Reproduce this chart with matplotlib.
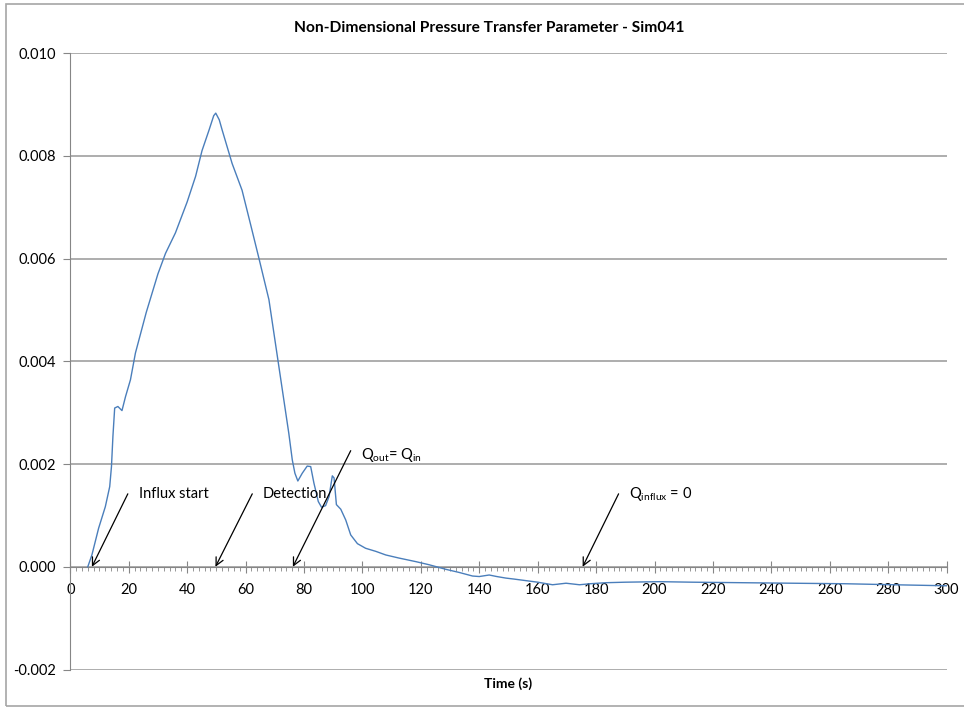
import matplotlib
matplotlib.use("Agg")
import matplotlib.pyplot as plt
from matplotlib.patches import Rectangle
from matplotlib.ticker import MultipleLocator, FormatStrFormatter

plt.rcParams['font.family'] = ['Lato', 'DejaVu Sans']
plt.rcParams['mathtext.default'] = 'regular'

# --- datos ---
time_s = [6.0, 7.4, 9.7, 12.0, 13.5, 14.1, 14.6, 15.2, 16.3, 17.7,
          18.9, 20.6, 22.3, 26, 30, 32.6, 36, 40, 42.9, 45.1,
          47.5, 49.1, 49.8, 51, 52, 55.4, 58.8, 62, 64.6, 68,
          71.4, 74.8, 76, 76.9, 77.9, 79.4, 81.1, 82.3, 83.4, 84.9,
          86.0, 87.4, 88.6, 89.7, 90.3, 91.1, 92.6, 94.3, 96.0, 98.3,
          101.1, 104.6, 108, 112.5, 118.3, 122.8, 128.6, 133.1, 137.7, 140,
          143.4, 146, 149.1, 152, 156, 160, 165.1, 169.7, 174.3, 178,
          183.4, 190, 201.7, 213, 230, 247, 265, 282, 300]
ptp = [0.0, 0.00023, 0.00075, 0.00117, 0.00156, 0.00195, 0.00254, 0.00309, 0.00312, 0.00304,
       0.00331, 0.00364, 0.00416, 0.00495, 0.0057, 0.0061, 0.0065, 0.0071, 0.0076, 0.0081,
       0.0085, 0.00878, 0.00883, 0.0087, 0.0085, 0.00785, 0.00733, 0.0066, 0.0060, 0.0052,
       0.0039, 0.0026, 0.00208, 0.00182, 0.00167, 0.00182, 0.00196, 0.00195, 0.00163, 0.00127,
       0.00116, 0.00119, 0.00137, 0.00177, 0.00173, 0.00121, 0.00112, 0.00091, 0.00062, 0.00045,
       0.00036, 0.0003, 0.00023, 0.00017, 0.0001, 0.00004, -0.00005, -0.00011, -0.00018, -0.00019,
       -0.00016, -0.00019, -0.00022, -0.00024, -0.00027, -0.0003, -0.00035, -0.00032, -0.00035, -0.00033,
       -0.00031, -0.0003, -0.00029, -0.0003, -0.00031, -0.00032, -0.00033, -0.00035, -0.00037]

# anotaciones (eventos)
ann_labels = ['Influx start', 'Detection', r'Q$_{out}$= Q$_{in}$', r'Q$_{influx}$ = 0']
ann_head_x = [7.4, 49.7, 76.2, 175.4]
ann_tail_x = [19.7, 62.3, 96.0, 187.7]
ann_tail_y = [0.00142, 0.00142, 0.00226, 0.00142]
ann_text_x = [23.4, 65.7, 99.4, 191.4]
ann_text_y = [0.00142, 0.00142, 0.00218, 0.00142]

fig = plt.figure(figsize=(9.64, 7.07), dpi=100)
ax = fig.add_axes([0.0729, 0.0530, 0.9091, 0.8720])

# borde exterior estilo Excel
fig.patches.append(Rectangle((0.0062, 0.0014), 1.0, 0.9929, transform=fig.transFigure,
                             fill=False, edgecolor='#a6a6a6', linewidth=1.2))

ax.plot(time_s, ptp, color='#4a7ebb', linewidth=1.0, zorder=3)

for lab, hx, tx, ty, lx, ly in zip(ann_labels, ann_head_x, ann_tail_x, ann_tail_y,
                                    ann_text_x, ann_text_y):
    ax.annotate('', xy=(hx, 0), xytext=(tx, ty),
                arrowprops=dict(arrowstyle='->', color='black', lw=0.9,
                                shrinkA=0, shrinkB=0, mutation_scale=14), zorder=4)
    ax.text(lx, ly, lab, fontsize=10.5, ha='left', va='center', color='black')

ax.set_xlim(0, 300)
ax.set_ylim(-0.002, 0.010)
ax.xaxis.set_major_locator(MultipleLocator(20))
ax.xaxis.set_minor_locator(MultipleLocator(2))
ax.yaxis.set_major_locator(MultipleLocator(0.002))
ax.yaxis.set_major_formatter(FormatStrFormatter('%.3f'))

ax.grid(True, axis='y', color='#a0a0a0', linewidth=1.2)
ax.set_axisbelow(True)

for s in ['top', 'right']:
    ax.spines[s].set_visible(False)
ax.spines['bottom'].set_position(('data', 0))
ax.spines['bottom'].set_color('#868686')
ax.spines['left'].set_color('#868686')

ax.tick_params(axis='x', which='major', direction='inout', length=8, color='#868686',
               labelsize=10.5, pad=8)
ax.tick_params(axis='x', which='minor', direction='out', length=3, color='#868686')
ax.tick_params(axis='y', which='major', direction='out', length=5, color='#868686',
               labelsize=10.5, pad=5)

# titulo centrado sobre el area del grafico completo
fig.text(489 / 964, 1 - 28 / 707, 'Non-Dimensional Pressure Transfer Parameter - Sim041',
         fontsize=11.2, fontweight='bold', ha='center', va='center')
ax.set_xlabel('Time (s)', fontsize=10, fontweight='bold')
ax.xaxis.set_label_coords(0.5, -0.012)

fig.savefig('out.png', dpi=100, facecolor='white')
